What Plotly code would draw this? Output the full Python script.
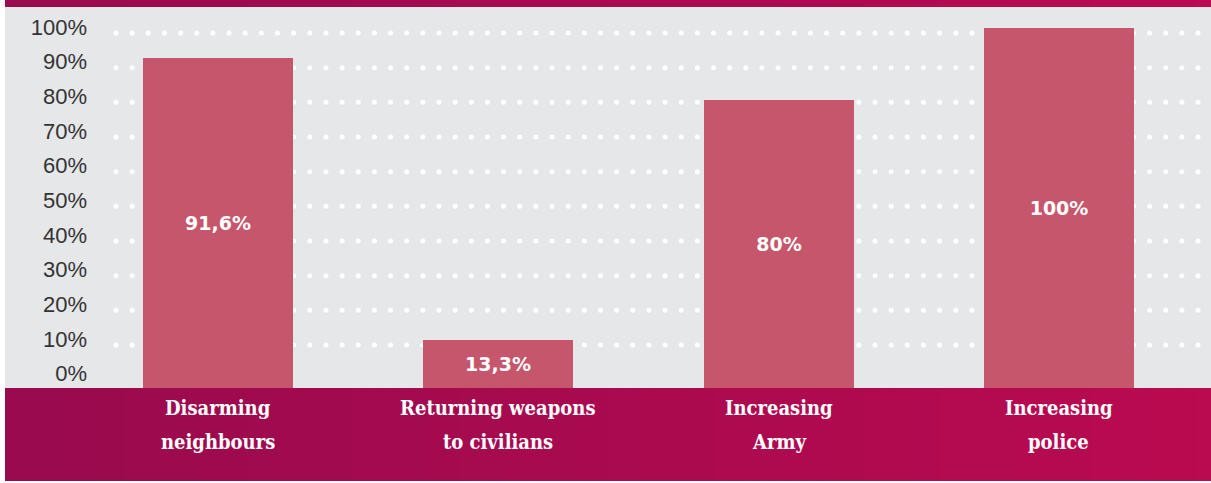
import numpy as np
import plotly.graph_objects as go

# Survey results
categories = ["Disarming neighbours", "Returning weapons to civilians", "Increasing Army", "Increasing police"]
category_lines = [["Disarming", "neighbours"], ["Returning weapons", "to civilians"],
                  ["Increasing", "Army"], ["Increasing", "police"]]
values = [91.6, 13.3, 80, 100]
y_ticks = [0, 10, 20, 30, 40, 50, 60, 70, 80, 90, 100]

# Canvas geometry (pixels)
W, H = 1211, 483
L, R, T, B = 5, 0, 7, 95
PW, PH = W - L - R, H - T - B
CAT_UNIT = 280.33          # px per category slot
FIRST_CENTER = 218         # px of first category centre


def px_to_x(px):
    return (px - FIRST_CENTER) / CAT_UNIT


def py_to_paper(py):
    return (H - B - py) / PH


def hex_mix(c1, c2, t):
    a = [int(c1[i:i + 2], 16) for i in (1, 3, 5)]
    b = [int(c2[i:i + 2], 16) for i in (1, 3, 5)]
    m = [round(a[k] + (b[k] - a[k]) * t) for k in range(3)]
    return "#{:02x}{:02x}{:02x}".format(*m)


BAR_COLOR = "#c5566b"
BAND_LEFT, BAND_RIGHT = "#990a4e", "#ba0a50"

# Category slots on a numeric axis (slot index = category order)
slots = np.arange(len(categories))

fig = go.Figure()

# Dotted grid rows (white dots) drawn on the label axis, beneath the bars
dot_px = np.linspace(116, 1198, 68)
gx, gy = [], []
for v in y_ticks[1:]:
    gx.extend(px_to_x(dot_px))
    gy.extend([v] * len(dot_px))
fig.add_trace(go.Scatter(
    x=gx, y=gy, mode="markers", xaxis="x", yaxis="y",
    marker=dict(size=5, color="white", line=dict(width=0)),
    hoverinfo="skip", showlegend=False,
))

labels = [f"{v:g}".replace(".", ",") + "%" for v in values]
fig.add_trace(go.Bar(
    x=slots, y=values, xaxis="x", yaxis="y2",
    width=150 / CAT_UNIT,
    marker=dict(color=BAR_COLOR, line=dict(width=0)),
    text=labels, textposition="inside", insidetextanchor="middle", textangle=0,
    insidetextfont=dict(family="DejaVu Sans", size=19, color="white", weight="bold"),
    hovertext=categories, showlegend=False,
))

# Gradient bands at top and bottom
shapes = []
N = 80
for i in range(N):
    x0, x1 = i / N, (i + 1) / N + 0.002
    col = hex_mix(BAND_LEFT, BAND_RIGHT, (i + 0.5) / N)
    shapes.append(dict(type="rect", xref="paper", yref="paper", x0=x0, x1=min(x1, 1),
                       y0=py_to_paper(481), y1=0, fillcolor=col, line=dict(width=0), layer="below"))
    shapes.append(dict(type="rect", xref="paper", yref="paper", x0=x0, x1=min(x1, 1),
                       y0=1, y1=py_to_paper(0), fillcolor=col, line=dict(width=0), layer="below"))

# Category labels, two lines each, in the bottom band
annotations = []
for cat_i, lines in zip(slots, category_lines):
    for line_i, txt in enumerate(lines):
        annotations.append(dict(
            x=cat_i, y=py_to_paper(408 + 34 * line_i), xref="x", yref="paper",
            text=txt, showarrow=False, xanchor="center", yanchor="middle",
            font=dict(family="DejaVu Serif Condensed, DejaVu Serif", size=20, color="white", weight="bold"),
        ))

fig.update_layout(
    width=W, height=H,
    margin=dict(l=L, r=R, t=T, b=B, pad=0),
    paper_bgcolor="white", plot_bgcolor="#e6e7e9",
    shapes=shapes, annotations=annotations,
    bargap=0,
    xaxis=dict(
        range=[px_to_x(L), px_to_x(W - R)],
        showticklabels=False, showgrid=False, zeroline=False, showline=False, ticks="",
        fixedrange=True,
    ),
    yaxis=dict(
        range=[-2.4, 107.5], anchor="free", position=(87 - L) / PW,
        tickmode="array", tickvals=y_ticks, ticktext=[f"{v}%" for v in y_ticks],
        ticks="", ticklabelshift=-6,
        tickfont=dict(family="Liberation Sans", size=22, color="#333333"),
        showgrid=False, zeroline=False, showline=False, fixedrange=True,
    ),
    yaxis2=dict(
        range=[0, 105.83], overlaying="y", visible=False, fixedrange=True,
    ),
)

fig.write_html("out.html")
